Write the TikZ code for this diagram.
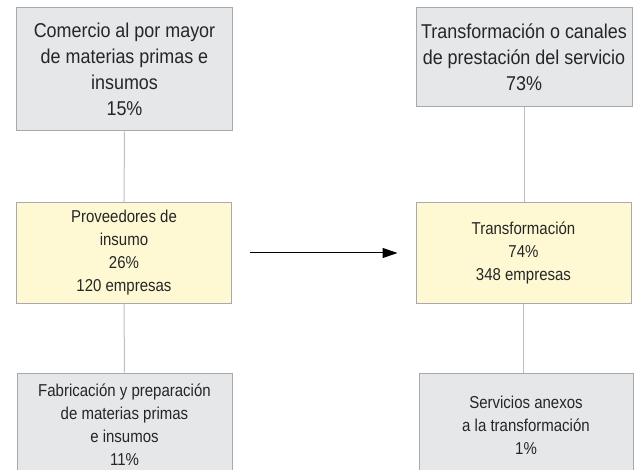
\documentclass[tikz,border=0pt]{standalone}
\usepackage{fontspec}
\setmainfont{Liberation Sans}[FakeStretch=0.9]
\newfontfamily\bigfam{Liberation Sans}[FakeStretch=0.897]
\newfontfamily\smallfam{Liberation Sans}[FakeStretch=0.872]
\usetikzlibrary{arrows.meta}
\definecolor{boxgray}{HTML}{E6E7E8}
\definecolor{boxyellow}{HTML}{FEF9D3}
\definecolor{bordergray}{HTML}{A7A9AC}
\definecolor{linegray}{HTML}{BCBEC0}
\tikzset{
  graybox/.style={draw=bordergray, fill=boxgray, line width=1pt, align=center, inner sep=0pt, text=black!85},
  yellowbox/.style={draw=bordergray, fill=boxyellow, line width=1pt, align=center, inner sep=0pt, text=black!85},
  bigtext/.style={font=\bigfam\fontsize{20}{26}\selectfont},
  smalltext/.style={font=\smallfam\fontsize{17.2}{23}\selectfont},
  link/.style={draw=linegray, line width=1pt},
}
\begin{document}
\begin{tikzpicture}[x=1pt,y=-1pt]
\useasboundingbox (0,0) rectangle (634,470);
\node[graybox, bigtext, minimum width=216, minimum height=123] (A) at (124.5,69.5)
  {Comercio al por mayor\\de materias primas e\\insumos\\15\%};
\node[graybox, bigtext, minimum width=216, minimum height=99] (B) at (524,57.5)
  {Transformación o canales\\de prestación del servicio\\73\%};
\node[yellowbox, smalltext, minimum width=215, minimum height=100] (C) at (124,253)
  {Proveedores de\\insumo\\26\%\\120 empresas};
\node[yellowbox, smalltext, minimum width=215, minimum height=100] (D) at (523.5,253)
  {Transformación\\74\%\\348 empresas};
\node[graybox, smalltext, minimum width=215, minimum height=103] (E) at (124.5,424.5)
  {Fabricación y preparación\\de materias primas\\e insumos\\11\%};
\node[graybox, smalltext, minimum width=214, minimum height=104] (F) at (526,425)
  {Servicios anexos\\a la transformación\\1\%};
\draw[link] (A.south) -- (C.north);
\draw[link] (C.south) -- (E.north);
\draw[link] (B.south) -- (B.south |- D.north);
\draw[link] (D.south) -- (D.south |- F.north);
\draw[line width=1pt, -{Triangle[length=15pt,width=10pt]}, shorten <=18pt, shorten >=18pt] (C.east) -- (D.west);
\end{tikzpicture}
\end{document}
